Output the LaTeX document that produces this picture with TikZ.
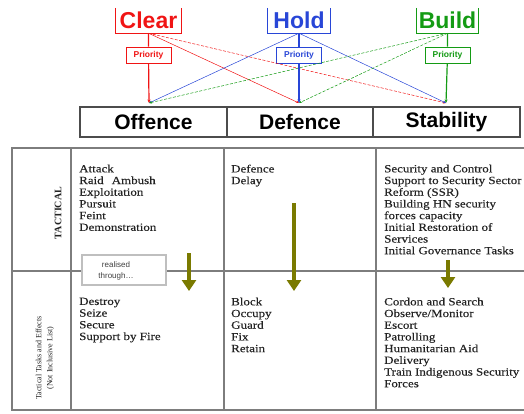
\documentclass[tikz,border=0pt]{standalone}
\usepackage{fontspec}
\setmainfont{Liberation Serif}
\newfontfamily\arialfont{Liberation Sans}
\newfontfamily\tabfont[FakeStretch=1.18, FakeBold=0.3]{Liberation Serif}
\usetikzlibrary{arrows.meta}

\definecolor{clearred}{RGB}{240,20,20}
\definecolor{holdblue}{RGB}{40,70,215}
\definecolor{buildgreen}{RGB}{20,155,20}
\definecolor{arrolive}{RGB}{122,122,0}
\definecolor{linegray}{RGB}{125,125,125}
\definecolor{txtgray}{RGB}{35,35,35}

\tikzset{
  phase/.style={minimum width=#1, minimum height=25pt, inner sep=0pt,
    font=\arialfont\fontsize{23}{23}\selectfont\bfseries},
  prio/.style={draw, fill=white, line width=0.8pt, minimum width=45pt, minimum height=16pt,
    inner sep=0pt, font=\arialfont\fontsize{8.5}{8.5}\selectfont\bfseries},
  link/.style={line width=0.5pt, -{Stealth[length=3pt,width=2.5pt]}},
  mainlink/.style={line width=1.2pt, -{Stealth[length=3.5pt,width=3pt]}},
  opcell/.style={draw=black!70, line width=1.2pt, minimum width=#1, minimum height=30pt,
    inner sep=0pt, font=\arialfont\fontsize{21}{21}\selectfont\bfseries},
  tabline/.style={linegray, line width=1.2pt},
  tasks/.style={anchor=north west, inner sep=0pt, align=left, text=txtgray,
    font=\tabfont\fontsize{11}{11.7}\selectfont},
  downarrow/.style={arrolive, line width=4.5pt, -{Triangle[width=14pt,length=11pt]}},
}

\begin{document}
\begin{tikzpicture}[x=1pt, y=-1pt]
    \useasboundingbox (0,0) rectangle (524,413);
    \clip (0,0) rectangle (524,413);

    % Clear / Hold / Build (box tops cut off)
    \node[phase=65pt, text=clearred] (clear) at (148.5,20.5) {Clear};
    \node[phase=62pt, text=holdblue] (hold) at (299,20.5) {Hold};
    \node[phase=61pt, text=buildgreen] (build) at (447.5,20.5) {Build};
    \draw[clearred, line width=1pt] (clear.north west) |- (clear.south east) -- (clear.north east);
    \draw[holdblue, line width=1pt] (hold.north west) |- (hold.south east) -- (hold.north east);
    \draw[buildgreen, line width=1pt] (build.north west) |- (build.south east) -- (build.north east);

    \node[prio, draw=clearred, text=clearred] (prioC) at (148.5,55) {Priority};
    \node[prio, draw=holdblue, text=holdblue] (prioH) at (299,55) {Priority};
    \node[prio, draw=buildgreen, text=buildgreen] (prioB) at (447.5,55) {Priority};

    % Offence / Defence / Stability
    \node[opcell=147pt] (offence) at (153.5,122) {Offence};
    \node[opcell=146pt] (defence) at (300,122) {Defence};
    \node[opcell=147pt] (stability) at (446.5,122) {Stability};

    \coordinate (pOff) at (149,103);
    \coordinate (pDef) at (299,103);
    \coordinate (pSta) at (446,103);

    % priority links
    \draw[link, clearred] (clear.south) -- (pDef);
    \draw[link, clearred, dash pattern=on 3pt off 1.5pt] (clear.south) -- (pSta);
    \draw[link, holdblue] (hold.south) -- (pOff);
    \draw[link, holdblue] (hold.south) -- (pSta);
    \draw[link, buildgreen, dash pattern=on 3pt off 1.5pt] (build.south) -- (pOff);
    \draw[link, buildgreen, dash pattern=on 3pt off 1.5pt] (build.south) -- (pDef);
    \draw[mainlink, clearred] (clear.south) -- (prioC) -- (pOff);
    \draw[mainlink, holdblue] (hold.south) -- (prioH) -- (pDef);
    \draw[mainlink, buildgreen] (build.south) -- (prioB) -- (pSta);

    % table
    \draw[tabline] (530,148) -- (12,148) -- (12,410) -- (530,410);
    \draw[tabline] (12,271) -- (530,271);
    \foreach \x in {71,224,376}
        \draw[tabline] (\x,148) -- (\x,410);

    \node[rotate=90, text=txtgray, font=\bfseries\fontsize{10}{10}\selectfont] (tacLab) at (58,213) {TACTICAL};
    \node[rotate=90, align=center, text=txtgray, font=\fontsize{8}{11}\selectfont] (effLab) at (45,358)
        {Tactical Tasks and Effects\\(Not Inclusive List)};

    \node[tasks] (tacOff) at (79,164.5) {Attack\\Raid\hspace{8pt}Ambush\\Exploitation\\Pursuit\\Feint\\Demonstration};
    \node[tasks] (tacDef) at (231,164.5) {Defence\\Delay};
    \node[tasks] (tacSta) at (384,164.5) {Security and Control\\Support to Security Sector\\Reform (SSR)\\Building HN security\\forces capacity\\Initial Restoration of\\Services\\Initial Governance Tasks};

    \node[tasks] (effOff) at (79,297.5) {Destroy\\Seize\\Secure\\Support by Fire};
    \node[tasks] (effDef) at (231,297.5) {Block\\Occupy\\Guard\\Fix\\Retain};
    \node[tasks] (effSta) at (384,297.5) {Cordon and Search\\Observe/Monitor\\Escort\\Patrolling\\Humanitarian Aid\\Delivery\\Train Indigenous Security\\Forces};

    % realised through
    \draw[draw=black!25, line width=2pt, fill=white] (82,255) rectangle (166,285);
    \node[align=center, text=black!75, font=\arialfont\fontsize{8}{11}\selectfont] (realTxt) at (116,271) {realised\\through\ldots};

    \coordinate (a1s) at (189,253);
    \coordinate (a1e) at (189,291);
    \coordinate (a2s) at (294,203);
    \coordinate (a2e) at (294,291);
    \coordinate (a3s) at (448,260);
    \coordinate (a3e) at (448,288);
    \draw[downarrow] (a1s) -- (a1e);
    \draw[downarrow] (a2s) -- (a2e);
    \draw[downarrow] (a3s) -- (a3e);
\end{tikzpicture}
\end{document}
